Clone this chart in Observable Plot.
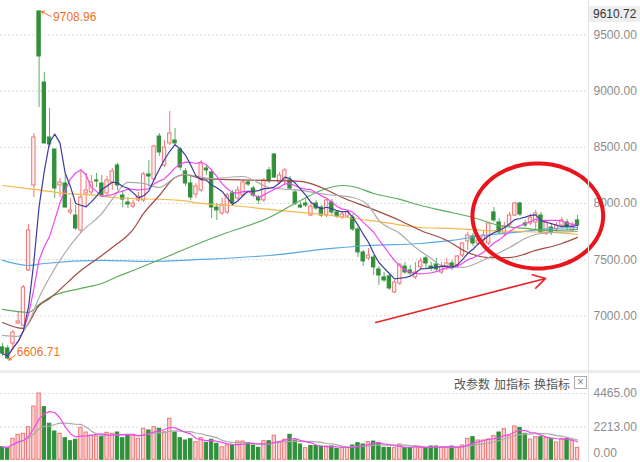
<!DOCTYPE html>
<html><head><meta charset="utf-8">
<script src="https://cdn.jsdelivr.net/npm/d3@7"></script>
<script src="https://cdn.jsdelivr.net/npm/@observablehq/plot@0.6"></script>
<style>
body{margin:0;background:#fff;}
#wrap{position:relative;width:640px;height:462px;overflow:hidden;background:#fff;font-family:"Liberation Sans",Arial,sans-serif;}
#price,#vol{position:absolute;left:0;}
#price{top:0}
#vol{top:372px}
#sep{position:absolute;left:0;top:370px;width:640px;height:3px;background:#ececec;}
#vline{position:absolute;left:588px;top:0;width:1px;height:462px;background:#e3e3e3;}
#tag{position:absolute;left:589px;top:6px;width:51px;height:16px;background:#eeeeee;color:#333;font-size:12px;line-height:16px;padding-left:4px;box-sizing:border-box;}
.tool{position:absolute;top:375px;font:12px "Noto Sans CJK SC",sans-serif;color:#555;}
#xbox{position:absolute;left:574px;top:376px;width:13px;height:13px;border:1px solid #aaa;box-sizing:border-box;color:#888;font-size:12px;line-height:11px;text-align:center;}
</style></head><body>
<div id="wrap">
  <div id="price"></div>
  <div id="vol"></div>
  <div id="sep"></div>
  <div id="vline"></div>
  <div id="tag">9610.72</div>
  <span class="tool" style="left:454px">改参数</span>
  <span class="tool" style="left:494px">加指标</span>
  <span class="tool" style="left:534px">换指标</span>
  <div id="xbox">×</div>
</div>
<script>
// ---- data ----
const opens = [6719, 6710, 6754, 6932, 6914, 7404, 8160, 9708.96, 9076, 8587,
 8480, 8160, 8178, 7920, 7893, 7760, 8089, 8098, 8205, 8178,
 8089, 8187, 8338, 8071, 8009, 7973, 8027, 8027, 8258, 8213,
 8596, 8338, 8534, 8560, 8480, 8285, 8178, 8080, 8116, 8311,
 8276, 7964, 7911, 7920, 8089, 8044, 8071, 8187, 8133, 8053,
 8027, 8294, 8436, 8187, 8205, 8205, 8098, 7982, 8000, 7893,
 8000, 7964, 7893, 8009, 7920, 7875, 7884, 7875, 7769, 7564,
 7511, 7519, 7413, 7342, 7351, 7208, 7288, 7439, 7404, 7342,
 7431, 7511, 7439, 7457, 7386, 7431, 7466, 7448, 7537, 7662,
 7706, 7644, 7671, 7644, 7920, 7831, 7733, 7804, 7893, 8000,
 7822, 7822, 7831, 7893, 7733, 7786, 7769, 7804, 7831, 7760,
 7849];
const closes = [6665, 6621, 6852, 6950, 7253, 7760, 8587, 9308, 8534, 8525,
 8133, 8187, 7964, 7938, 7777, 8053, 8116, 8187, 8196, 8071,
 8205, 8285, 8160, 8035, 7991, 8000, 8062, 8258, 8240, 8507,
 8454, 8498, 8623, 8534, 8320, 8178, 8053, 8151, 8356, 8294,
 7964, 7938, 7982, 8071, 8000, 8116, 8187, 8169, 8071, 8027,
 8205, 8196, 8231, 8249, 8294, 8133, 8000, 7964, 7982, 7973,
 7955, 7893, 8027, 7920, 7884, 7902, 7920, 7769, 7564, 7484,
 7537, 7431, 7359, 7315, 7244, 7297, 7457, 7386, 7377, 7386,
 7484, 7466, 7422, 7413, 7431, 7466, 7431, 7528, 7644, 7715,
 7644, 7671, 7715, 7822, 7849, 7742, 7795, 7893, 8000, 7902,
 7804, 7875, 7911, 7742, 7831, 7742, 7804, 7849, 7786, 7795,
 7804];
const highs = [6754, 6737, 6870, 7030, 7270, 7813, 8623, 9708.96, 9165, 8845,
 8485, 8222, 8249, 8044, 7982, 8294, 8267, 8249, 8267, 8249,
 8240, 8311, 8356, 8116, 8053, 8027, 8098, 8276, 8382, 8516,
 8623, 8560, 8818, 8667, 8498, 8311, 8249, 8178, 8382, 8338,
 8294, 8000, 8044, 8089, 8116, 8151, 8205, 8205, 8151, 8071,
 8222, 8320, 8445, 8276, 8311, 8240, 8124, 8009, 8036, 8000,
 8027, 7982, 8044, 8036, 7938, 7929, 7938, 7902, 7795, 7582,
 7600, 7537, 7439, 7386, 7368, 7315, 7460, 7475, 7448, 7475,
 7511, 7528, 7475, 7511, 7475, 7511, 7493, 7537, 7653, 7742,
 7733, 7706, 7760, 7831, 7964, 7866, 7831, 7920, 8009, 8009,
 7849, 7902, 7938, 7920, 7849, 7813, 7831, 7875, 7858, 7831,
 7893];
const lows = [6639, 6606.71, 6692, 6923, 6906, 7395, 8053, 8854, 8530, 8498,
 8044, 8053, 7960, 7902, 7760, 7733, 7964, 8071, 8142, 8053,
 8071, 8116, 8116, 7964, 7955, 7955, 8009, 8009, 8142, 8205,
 8418, 8320, 8516, 8516, 8294, 8151, 8027, 8044, 8098, 8249,
 7866, 7849, 7893, 7902, 7973, 8027, 8053, 8151, 8053, 7991,
 8009, 8178, 8222, 8169, 8160, 8116, 7982, 7955, 7964, 7884,
 7938, 7875, 7875, 7893, 7866, 7858, 7866, 7751, 7519, 7439,
 7493, 7359, 7270, 7297, 7226, 7199, 7270, 7368, 7351, 7324,
 7404, 7422, 7395, 7386, 7368, 7404, 7404, 7422, 7519, 7582,
 7617, 7626, 7653, 7626, 7831, 7724, 7706, 7786, 7884, 7884,
 7786, 7804, 7760, 7733, 7715, 7715, 7742, 7777, 7760, 7742,
 7769];
const volumes = [850, 810, 1416, 1686, 1754, 2200, 3595, 4465, 3550, 2430,
 1909, 1754, 1458, 1255, 1350, 2160, 1842, 1640, 1572, 1525,
 1822, 1754, 1842, 1458, 1640, 1687, 1417, 2092, 1977, 2200,
 2092, 1862, 2767, 1842, 1458, 1302, 1390, 1188, 1458, 1147,
 1350, 1080, 850, 964, 964, 1234, 1234, 1120, 964, 810,
 1255, 1255, 1620, 1188, 1350, 1687, 1302, 1032, 783, 931,
 931, 897, 897, 897, 740, 807, 807, 964, 1122, 1032,
 1190, 1234, 1122, 807, 807, 784, 1032, 807, 807, 897,
 807, 807, 897, 897, 841, 852, 897, 807, 964, 1414,
 1527, 1302, 1302, 1369, 1594, 1842, 2067, 1639, 2247, 2157,
 1752, 1369, 1527, 1527, 1459, 1414, 1167, 1414, 1414, 1279,
 807];
// longer moving averages as [candle index, value]
const ma20 = [[0,6826],[3,6817],[5,6941],[7,7164],[9,7342],[12,7564],[15,7742],[19,7911],[21,8036],[24,8187],[27,8178],[30,8142],[33,8231],[35,8258],[40,8222],[46,8240],[51,8142],[57,8116],[62,8080],[67,8053],[70,7982],[72,7849],[76,7733],[79,7608],[82,7511],[84,7448],[88,7431],[93,7519],[97,7608],[100,7689],[103,7733],[110,7751]];
const ma30 = [[0,6941],[4,6888],[7,7092],[9,7155],[15,7404],[19,7537],[21,7608],[25,7769],[27,7911],[30,8071],[33,8231],[35,8258],[38,8222],[42,8214],[50,8205],[57,8196],[61,8142],[65,8053],[70,7964],[76,7849],[80,7760],[85,7671],[89,7564],[93,7519],[97,7519],[102,7582],[107,7644],[110,7698]];
const ma60 = [[0,7057],[5,7030],[7,7101],[9,7164],[15,7244],[19,7288],[22,7350],[25,7404],[32,7537],[38,7653],[42,7724],[51,7875],[57,8027],[62,8133],[65,8160],[67,8151],[71,8089],[76,8036],[80,7982],[84,7938],[90,7875],[95,7804],[100,7778],[105,7760],[110,7769]];
const ma120 = [[0,8160],[6,8125],[12,8089],[18,8071],[21,8053],[34,8027],[38,8000],[44,7982],[51,7947],[63,7893],[73,7831],[80,7786],[86,7778],[92,7760],[98,7751],[105,7742],[110,7724]];
const ma250 = [[0,7493],[5,7448],[8,7466],[19,7493],[28,7484],[38,7502],[51,7537],[63,7600],[70,7626],[80,7644],[86,7671],[92,7715],[98,7742],[105,7777],[110,7786]];
const priceTicks = [7000, 7500, 8000, 8500, 9000, 9500];
const volTicks = [2213, 4465];
const volZero = [0];
const highMark = [{i: 7, p: 9708.96}];
const lowMark = [{i: 1, p: 6606.71}];
// annotations (data coordinates)
const ring = {i: 102.4, p: 7889, ri: 12.5, rp: 467};
const trendArrow = [{i1: 71.4, p1: 6941, i2: 103.9, p2: 7333}];

// ---- layout / style ----
const xDomain = [-0.383, 112.1];
const PINK = "#ef7474", PINKFILL = "#fff3f3", VPINKFILL = "#fbd2d2", GREEN = "#31903a";
const hw = 0.32;
const font = "Liberation Sans, Arial, sans-serif";

const candles = opens.map((o, i) => ({i, o, c: closes[i], h: highs[i], l: lows[i]}));
const ups = candles.filter(d => d.c >= d.o);
const downs = candles.filter(d => d.c < d.o);
const volRows = volumes.map((v, i) => ({i, v, up: i === 0 ? closes[0] >= opens[0] : closes[i] >= closes[i - 1]}));
const pairs = arr => arr.map(([i, v]) => ({i, v}));
const ringPts = d3.range(0, 361, 4).map(a => ({
  i: ring.i + ring.ri * Math.cos(a * Math.PI / 180),
  p: ring.p + ring.rp * Math.sin(a * Math.PI / 180)
}));
const smooth = (arr, color) => Plot.line(pairs(arr), {x: "i", y: "v", stroke: color, strokeWidth: 1.2, curve: "monotone-x"});

const price = Plot.plot({
  width: 640, height: 372,
  marginLeft: 0, marginRight: 52, marginTop: 0, marginBottom: 0,
  x: {domain: xDomain, axis: null},
  y: {domain: [6496, 9806]},
  style: {background: "transparent", fontFamily: font, fontSize: "12px", color: "#8c8c8c"},
  marks: [
    Plot.ruleY(priceTicks, {stroke: "#cfcfcf", strokeDasharray: "1.5,2.5"}),
    Plot.axisY(priceTicks, {anchor: "right", tickSize: 0, tickPadding: 5, tickFormat: d => d.toFixed(2), label: null, fontSize: 12}),
    Plot.ruleX(ups, {x: "i", y1: "l", y2: "h", stroke: PINK}),
    Plot.ruleX(downs, {x: "i", y1: "l", y2: "h", stroke: "#5fae66"}),
    Plot.rect(ups, {x1: d => d.i - hw, x2: d => d.i + hw, y1: "o", y2: "c", fill: PINKFILL, stroke: PINK, strokeWidth: 1}),
    Plot.rect(downs, {x1: d => d.i - hw, x2: d => d.i + hw, y1: "o", y2: "c", fill: GREEN, stroke: GREEN, strokeWidth: 1}),
    smooth(ma250, "#5aa9e6"),
    smooth(ma120, "#f6b84e"),
    smooth(ma60, "#5cad5c"),
    smooth(ma30, "#a04a44"),
    smooth(ma20, "#ababab"),
    Plot.lineY(candles, Plot.windowY({k: 10, anchor: "end"}, {x: "i", y: "c", stroke: "#f048f0", strokeWidth: 1.2})),
    Plot.lineY(candles, Plot.windowY({k: 5, anchor: "end"}, {x: "i", y: "c", stroke: "#3c3c9e", strokeWidth: 1.2})),
    Plot.text(highMark, {x: "i", y: "p", text: d => d.p.toFixed(2), dx: 14, dy: 6, textAnchor: "start", fill: "#f27228", fontSize: 12}),
    Plot.arrow(highMark, {x1: d => d.i + 2.3, y1: d => d.p - 45, x2: d => d.i + 0.4, y2: "p", stroke: "#f27228", strokeWidth: 1, headLength: 5}),
    Plot.text(lowMark, {x: "i", y: "p", text: d => d.p.toFixed(2), dx: 9, dy: -8, textAnchor: "start", fill: "#f27228", fontSize: 12}),
    Plot.arrow(lowMark, {x1: d => d.i + 1.5, y1: d => d.p + 45, x2: d => d.i + 0.2, y2: "p", stroke: "#f27228", strokeWidth: 1, headLength: 5}),
    Plot.line(ringPts, {x: "i", y: "p", stroke: "#e8161c", strokeWidth: 4, curve: "catmull-rom"}),
    Plot.arrow(trendArrow, {x1: "i1", y1: "p1", x2: "i2", y2: "p2", stroke: "#e8262a", strokeWidth: 1.6, headLength: 13})
  ]
});
document.getElementById("price").appendChild(price);

const vol = Plot.plot({
  width: 640, height: 90,
  marginLeft: 0, marginRight: 52, marginTop: 0, marginBottom: 0,
  x: {domain: xDomain, axis: null},
  y: {domain: [-182, 5888]},
  style: {background: "transparent", fontFamily: font, fontSize: "12px", color: "#8c8c8c"},
  marks: [
    Plot.ruleY(volTicks, {stroke: "#cfcfcf", strokeDasharray: "1.5,2.5"}),
    Plot.axisY(volTicks, {anchor: "right", tickSize: 0, tickPadding: 5, tickFormat: d => d.toFixed(2), label: null, fontSize: 12}),
    Plot.text(volZero, {x: () => xDomain[1], y: d => d, text: d => d.toFixed(2), dx: 5, dy: -7, textAnchor: "start", fontSize: 12}),
    Plot.rect(volRows.filter(d => d.up), {x1: d => d.i - hw, x2: d => d.i + hw, y1: 0, y2: "v", fill: VPINKFILL, stroke: PINK, strokeWidth: 1}),
    Plot.rect(volRows.filter(d => !d.up), {x1: d => d.i - hw, x2: d => d.i + hw, y1: 0, y2: "v", fill: GREEN, stroke: GREEN, strokeWidth: 1}),
    Plot.lineY(volRows, Plot.windowY({k: 10, anchor: "end"}, {x: "i", y: "v", stroke: "#ababab", strokeWidth: 1.2})),
    Plot.lineY(volRows, Plot.windowY({k: 5, anchor: "end"}, {x: "i", y: "v", stroke: "#f048f0", strokeWidth: 1.2}))
  ]
});
document.getElementById("vol").appendChild(vol);
</script>
</body></html>
